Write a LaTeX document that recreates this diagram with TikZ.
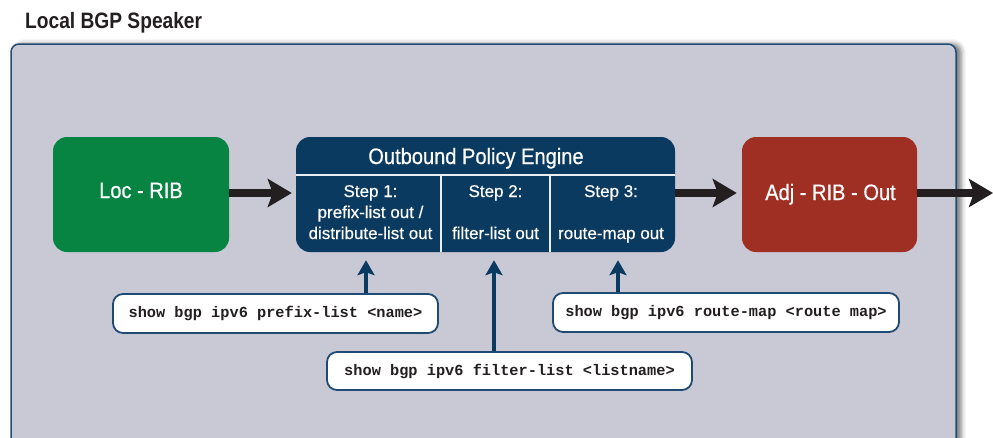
\documentclass[tikz,border=0pt]{standalone}
\usepackage{fontspec}
\setmainfont{Liberation Sans}
\setmonofont{Liberation Mono}
\newfontfamily\condfont[FakeStretch=0.9,FakeBold=0.6]{Liberation Sans}
\newfontfamily\stepfont[FakeBold=0.4]{Liberation Sans}
\newfontfamily\titlefont[FakeStretch=0.86]{Liberation Sans}
\usetikzlibrary{arrows.meta,shadows.blur}

\definecolor{panelfill}{HTML}{C9C9D6}
\definecolor{panelborder}{HTML}{1F4B74}
\definecolor{ribgreen}{HTML}{078442}
\definecolor{engineblue}{HTML}{0B3A61}
\definecolor{adjred}{HTML}{A02F23}
\definecolor{inkblack}{HTML}{231F20}
\definecolor{cmdborder}{HTML}{1E4A73}

\tikzset{
  panel/.style={fill=panelfill, draw=panelborder, line width=1.5pt, rounded corners=8pt,
    blur shadow={shadow xshift=5pt, shadow yshift=0pt, shadow blur radius=5pt, shadow opacity=55}},
  ribbox/.style={rounded corners=14pt, inner sep=0pt, minimum height=115pt},
  boxtitle/.style={text=white, inner sep=0pt, anchor=base, font=\condfont\fontsize{22.3}{26}\selectfont},
  steptext/.style={text=white, inner sep=0pt, anchor=base, font=\stepfont\fontsize{17}{20}\selectfont},
  divider/.style={draw=white!92!engineblue, line width=2.2pt},
  cmdbox/.style={draw=cmdborder, line width=1.8pt, fill=white, rounded corners=10pt, inner sep=0pt,
    text=inkblack, font=\ttfamily\bfseries\fontsize{15.3}{18}\selectfont},
  bigarrow/.style={draw=inkblack, line width=8pt, -{Stealth[length=24pt,width=28pt,inset=5pt]}},
  uparrow/.style={draw=engineblue, line width=4pt, -{Stealth[length=15pt,width=17pt,inset=3pt]}}
}

\begin{document}
\begin{tikzpicture}[x=1pt,y=-1pt]
\useasboundingbox (0,0) rectangle (993,437);

% heading
\node[anchor=base west, inner sep=0pt, text=inkblack,
      font=\titlefont\bfseries\fontsize{22.3}{26}\selectfont] (title) at (25,28) {Local BGP Speaker};

% speaker panel, running off the lower edge
\begin{scope}
  \clip (0,0) rectangle (993,437);
  \path[panel] (11,44) rectangle (956,480);
\end{scope}

% main boxes
\node[ribbox, fill=ribgreen, minimum width=176pt] (loc) at (141,194.5) {};
\node[ribbox, fill=engineblue, minimum width=379pt] (engine) at (485.5,194.5) {};
\node[ribbox, fill=adjred, minimum width=175pt] (adj) at (829.5,194.5) {};

\node[boxtitle] (loctext) at (141,198) {Loc - RIB};
\node[boxtitle] (adjtext) at (830.5,200) {Adj - RIB - Out};
\node[boxtitle] (enginetext) at (476,164) {Outbound Policy Engine};

% engine dividers
\coordinate (hdr) at (0,175);
\coordinate (c1) at (441,0);
\coordinate (c2) at (550,0);
\draw[divider] (engine.west |- hdr) -- (engine.east |- hdr);
\draw[divider] (c1 |- hdr) -- (c1 |- engine.south);
\draw[divider] (c2 |- hdr) -- (c2 |- engine.south);

% step labels
\node[steptext] (s1a) at (370.5,197) {Step 1:};
\node[steptext] (s1b) at (370.5,218) {prefix-list out /};
\node[steptext] (s1c) at (370.5,239) {distribute-list out};
\node[steptext] (s2a) at (495.5,197) {Step 2:};
\node[steptext] (s2b) at (495.5,239) {filter-list out};
\node[steptext] (s3a) at (611,197) {Step 3:};
\node[steptext] (s3b) at (611,239) {route-map out};

% main flow
\coordinate (out) at (993,193);
\draw[bigarrow, shorten >=4pt] ([yshift=1.5pt]loc.east) -- ([yshift=1.5pt]engine.west);
\draw[bigarrow, shorten >=5pt] ([yshift=1.5pt]engine.east) -- ([yshift=1.5pt]adj.west);
\draw[bigarrow] ([yshift=1.5pt]adj.east) -- (out);

% show commands
\node[cmdbox, minimum width=325pt, minimum height=39pt] (cmd1) at (275.5,313.5) {show bgp ipv6 prefix-list <name>};
\node[cmdbox, minimum width=365pt, minimum height=38pt] (cmd2) at (509.5,371) {show bgp ipv6 filter-list <listname>};
\node[cmdbox, minimum width=346pt, minimum height=39pt] (cmd3) at (726,312.5) {show bgp ipv6 route-map <route map>};

\coordinate (a1) at (366,0);
\coordinate (a2) at (494,0);
\coordinate (a3) at (618,0);
\draw[uparrow, shorten >=8pt] (cmd1.north -| a1) -- (engine.south -| a1);
\draw[uparrow, shorten >=8pt] (cmd2.north -| a2) -- (engine.south -| a2);
\draw[uparrow, shorten >=8pt] (cmd3.north -| a3) -- (engine.south -| a3);
\end{tikzpicture}
\end{document}
